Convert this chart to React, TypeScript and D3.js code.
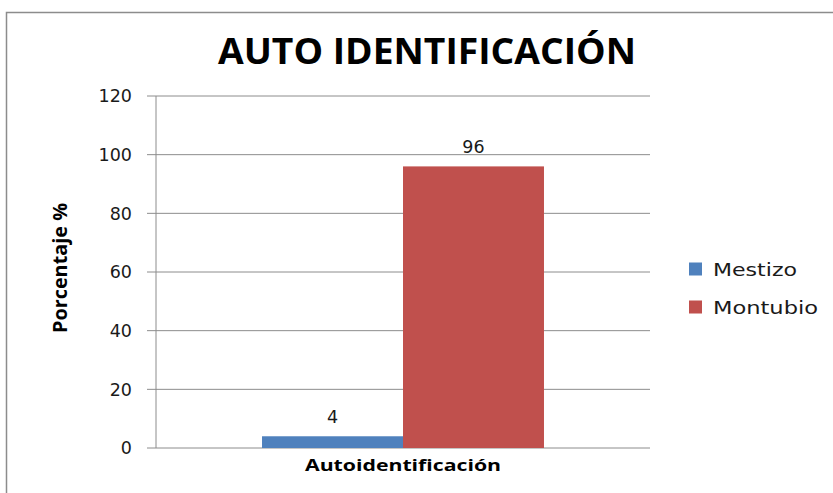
import React from "react";
import * as d3 from "d3";

const width = 833;
const height = 493;

// data
const categories = ["Autoidentificación"];
const seriesNames = ["Mestizo", "Montubio"];
const seriesValues = [4, 96];
const seriesColors = ["#4f81bd", "#c0504d"];
const yTicks = [0, 20, 40, 60, 80, 100, 120];

const plot = { left: 156, right: 650, top: 96, bottom: 448 };
const font = "'Open Sans', 'DejaVu Sans', sans-serif";
const numFont = "'DejaVu Sans', sans-serif";
// rendered widths of the legend labels
const legendTextWidth = [84, 105];

const App = () => {
  const y = d3.scaleLinear().domain([0, 120]).range([plot.bottom, plot.top]);

  const x0 = d3
    .scaleBand()
    .domain(categories)
    .range([plot.left, plot.right])
    .paddingInner(0)
    .paddingOuter(0.376);

  const x1 = d3
    .scaleBand()
    .domain(seriesNames)
    .range([0, x0.bandwidth()]);

  return (
    <svg
      width={width}
      height={height}
      style={{ position: "absolute", left: 0, top: 0, background: "#fff" }}
    >
      {/* outer border */}
      <path d={`M6.5,${height} V12.5 H${width}`} fill="none" stroke="#8c8c8c" strokeWidth={1.5} />

      <text
        x={427}
        y={64}
        textAnchor="middle"
        fontFamily={font}
        fontWeight="bold"
        fontSize={36}
        textLength={418}
        lengthAdjust="spacingAndGlyphs"
        fill="#000"
      >
        AUTO IDENTIFICACIÓN
      </text>

      {/* gridlines + ticks */}
      {yTicks.map(t => (
        <g key={t}>
          <line x1={147} x2={plot.right} y1={y(t)} y2={y(t)} stroke="#8c8c8c" strokeWidth={1} />
          <text
            x={132}
            y={y(t)}
            dy="0.36em"
            textAnchor="end"
            fontFamily={numFont}
            fontSize={17.5}
            fill="#1a1a1a"
          >
            {t}
          </text>
        </g>
      ))}
      <line x1={plot.left} x2={plot.left} y1={plot.top} y2={plot.bottom} stroke="#8c8c8c" strokeWidth={1} />

      {/* bars */}
      {categories.map(c =>
        seriesNames.map((s, i) => (
          <g key={c + s}>
            <rect
              x={(x0(c) || 0) + (x1(s) || 0)}
              y={y(seriesValues[i])}
              width={x1.bandwidth()}
              height={y(0) - y(seriesValues[i])}
              fill={seriesColors[i]}
            />
            <text
              x={(x0(c) || 0) + (x1(s) || 0) + x1.bandwidth() / 2}
              y={y(seriesValues[i]) - 13}
              textAnchor="middle"
              fontFamily={numFont}
              fontSize={17.5}
              fill="#1a1a1a"
            >
              {seriesValues[i]}
            </text>
          </g>
        ))
      )}

      {/* x category label */}
      {categories.map(c => (
        <text
          key={c}
          x={(x0(c) || 0) + x0.bandwidth() / 2}
          y={471}
          textAnchor="middle"
          fontFamily={font}
          fontWeight="bold"
          fontSize={16}
          textLength={196}
          lengthAdjust="spacingAndGlyphs"
          fill="#000"
        >
          {c}
        </text>
      ))}

      {/* y axis title */}
      <text
        transform="translate(67,268) rotate(-90)"
        textAnchor="middle"
        fontFamily={font}
        fontWeight="bold"
        fontSize={19}
        textLength={130}
        lengthAdjust="spacingAndGlyphs"
        fill="#000"
      >
        Porcentaje %
      </text>

      {/* legend */}
      {seriesNames.map((s, i) => (
        <g key={s} transform={`translate(689,${269 + i * 38})`}>
          <rect x={0} y={-6.5} width={13} height={13} fill={seriesColors[i]} />
          <text
            x={24}
            y={0}
            dy="0.36em"
            fontFamily={numFont}
            fontSize={18.5}
            textLength={legendTextWidth[i]}
            lengthAdjust="spacingAndGlyphs"
            fill="#1a1a1a"
          >
            {s}
          </text>
        </g>
      ))}
    </svg>
  );
};

export default App;
